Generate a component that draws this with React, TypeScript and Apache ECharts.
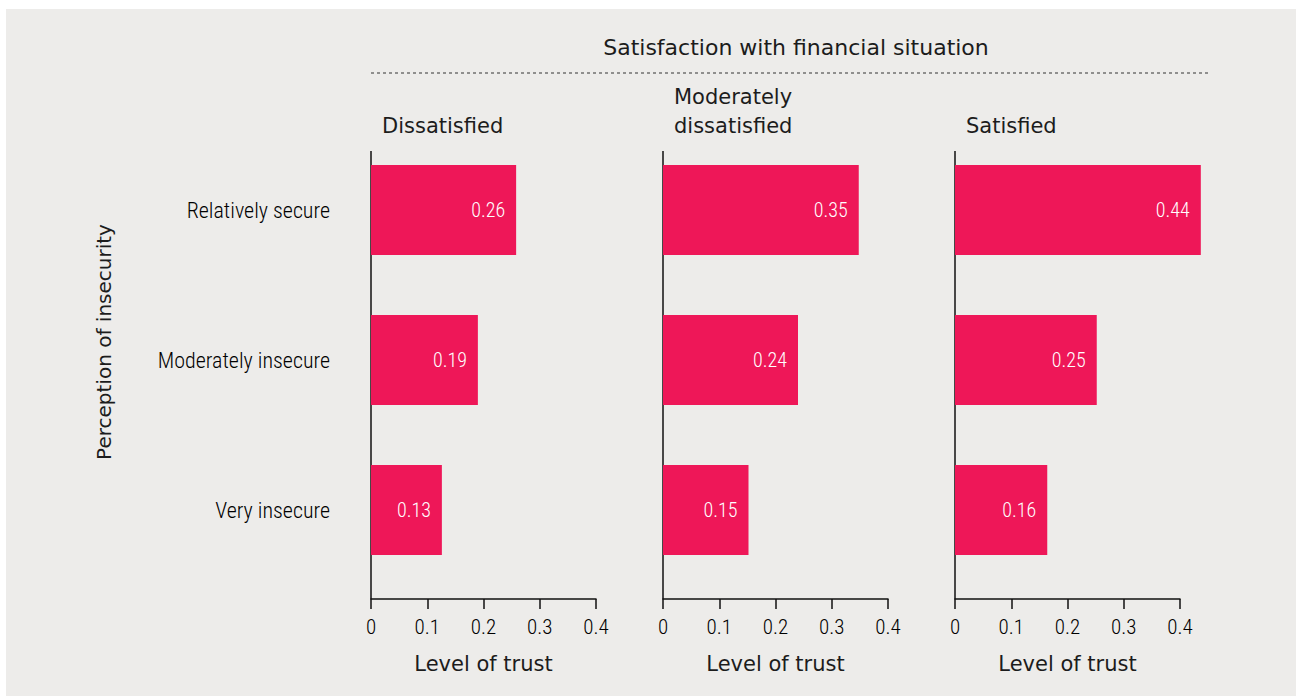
import React, { useEffect, useRef } from "react";
import * as echarts from "echarts";

const categories = ["Relatively secure", "Moderately insecure", "Very insecure"];
const panelTitles = ["Dissatisfied", "Moderately\ndissatisfied", "Satisfied"];
const dissatisfied = [0.258, 0.19, 0.126];
const moderatelyDissatisfied = [0.348, 0.24, 0.152];
const satisfied = [0.437, 0.252, 0.164];
const panelValues = [dissatisfied, moderatelyDissatisfied, satisfied];
const xTickValues = [0, 0.1, 0.2, 0.3, 0.4];
const mainTitle = "Satisfaction with financial situation";
const xAxisName = "Level of trust";
const yAxisName = "Perception of insecurity";

const BAR = "#ee1758";
const INK = "#1c1c1c";
const GEO = "'DejaVu Sans', 'Noto Sans', sans-serif";
const NARROW = "'Roboto Condensed', 'Arial Narrow', 'Liberation Sans Narrow', Roboto, sans-serif";

export default function App() {
  const ref = useRef<HTMLDivElement>(null);
  useEffect(() => {
    if (!ref.current) return;
    const chart = echarts.init(ref.current, undefined, { renderer: "svg" });
    const lefts = [371, 663, 955];
    const grids = lefts.map((l) => ({ left: l, width: 225, top: 135, height: 450 }));
    const xAxes = lefts.map((_, i) => ({
      type: "value",
      gridIndex: i,
      min: 0,
      max: 0.4,
      interval: 0.1,
      offset: 14,
      name: xAxisName,
      nameLocation: "middle",
      nameGap: 54,
      nameTextStyle: { fontFamily: GEO, fontSize: 21, color: INK },
      axisLine: { show: true, lineStyle: { color: "#111", width: 1.5 } },
      axisTick: { show: true, inside: false, length: 10, lineStyle: { color: "#111", width: 1.5 } },
      splitLine: { show: false },
      axisLabel: {
        margin: 17,
        fontFamily: NARROW,
        fontWeight: 300,
        fontSize: 21,
        color: "#000",
        formatter: (v: number) => (xTickValues.includes(Math.round(v * 10) / 10) ? (v === 0 ? "0" : v.toFixed(1)) : ""),
      },
    }));
    const yAxes = lefts.map((_, i) => ({
      type: "category",
      gridIndex: i,
      inverse: true,
      data: categories,
      axisLine: { show: false },
      axisTick: { show: false },
      axisLabel: {
        show: i === 0,
        margin: 41,
        fontFamily: NARROW,
        fontWeight: 300,
        fontSize: 22,
        color: "#000",
      },
    }));
    const series = panelValues.map((vals, i) => ({
      type: "bar",
      xAxisIndex: i,
      yAxisIndex: i,
      data: vals,
      barWidth: 90,
      clip: false,
      itemStyle: { color: BAR },
      label: {
        show: true,
        position: "insideRight",
        distance: 11,
        color: "#fff",
        fontFamily: NARROW,
        fontWeight: 300,
        fontSize: 20,
        formatter: (p: any) => p.value.toFixed(2),
      },
    }));
    const graphic: any[] = [
      {
        type: "text",
        x: 796,
        y: 47,
        style: { text: mainTitle, font: `22px ${GEO}`, fill: INK, textAlign: "center", textVerticalAlign: "middle" },
      },
      {
        type: "line",
        shape: { x1: 371, y1: 73, x2: 1209, y2: 73 },
        style: { stroke: "#333", lineWidth: 1, lineDash: [3, 3] },
      },
      {
        type: "text",
        x: 104,
        y: 342,
        rotation: Math.PI / 2,
        style: { text: yAxisName, font: `20px ${GEO}`, fill: INK, textAlign: "center", textVerticalAlign: "middle" },
      },
    ];
    lefts.forEach((l, i) => {
      graphic.push({
        type: "text",
        x: l + 11,
        y: 140,
        style: {
          text: panelTitles[i],
          font: `21px ${GEO}`,
          lineHeight: 29,
          fill: INK,
          textAlign: "left",
          textVerticalAlign: "bottom",
        },
      });
      graphic.push({
        type: "line",
        shape: { x1: l, y1: 151, x2: l, y2: 599 },
        style: { stroke: "#111", lineWidth: 1.5 },
      });
    });
    chart.setOption({
      animation: false,
      backgroundColor: "transparent",
      grid: grids,
      xAxis: xAxes,
      yAxis: yAxes,
      series,
      graphic,
    } as any);
    return () => chart.dispose();
  }, []);
  return (
    <div style={{ position: "absolute", left: 0, top: 0, width: 1296, height: 696, background: "#fff" }}>
      <div style={{ position: "absolute", left: 6, top: 9, width: 1290, height: 687, background: "#edecea" }} />
      <div ref={ref} style={{ position: "absolute", left: 0, top: 0, width: 1296, height: 696 }} />
    </div>
  );
}
